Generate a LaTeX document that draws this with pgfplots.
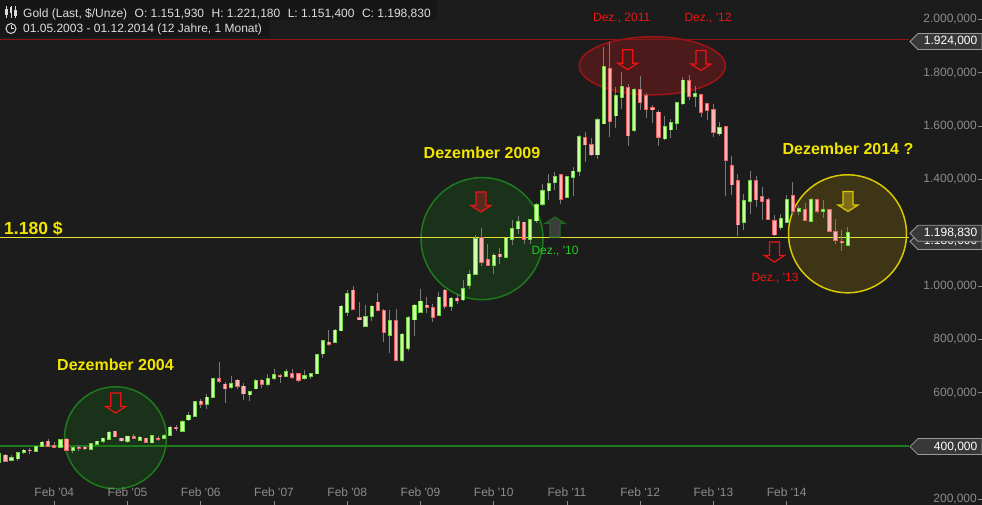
\documentclass[border=0pt]{standalone}
\usepackage{fontspec}
\setmainfont{Liberation Sans}
\usepackage{pgfplots}
\usepackage{pgfplotstable}
\pgfplotsset{compat=1.18}

\definecolor{bg}{HTML}{1C1C1C}
\definecolor{hdr}{HTML}{161616}
\definecolor{tickgray}{HTML}{8C8C8C}
\definecolor{wick}{HTML}{7A7A7A}
\definecolor{upedge}{HTML}{6FD93A}
\definecolor{upfill}{HTML}{CCFFA8}
\definecolor{dnedge}{HTML}{F06060}
\definecolor{dnfill}{HTML}{FFB4B4}
\definecolor{annoyellow}{HTML}{F2E600}
\definecolor{annored}{HTML}{EE1414}
\definecolor{annogreen}{HTML}{22CC22}
\definecolor{circgreen}{HTML}{1E7A1E}
\definecolor{circgreenfill}{HTML}{1A321A}
\definecolor{ellred}{HTML}{A01414}
\definecolor{ellredfill}{HTML}{4C1A1A}
\definecolor{linered}{HTML}{8E1515}
\definecolor{lineyellow}{HTML}{E6E036}
\definecolor{circyel}{HTML}{D8C800}
\definecolor{circyelfill}{HTML}{3D3516}
\definecolor{boxfill}{HTML}{383838}
\definecolor{boxedge}{HTML}{9A9A9A}

% monthly candles, m = months since Jan 2003
\pgfplotstableread{
m o h l c
4 340 378 336 372
6 347 366 342 355
7 352 378 344 375
8 376 390 370 384
10 381 399 378 396
11 400 417 398 414
14 395 427 393 424
16 384 397 375 394
19 388 410 386 408
20 408 420 404 417
21 417 431 412 428
22 425 455 424 451
25 417 438 412 436
27 422 437 420 432
29 412 442 410 437
31 430 443 427 437
32 441 474 438 470
34 455 496 454 491
35 499 528 492 515
36 512 570 510 566
38 557 593 540 582
39 583 656 580 652
42 620 664 612 633
45 592 604 567 602
46 615 650 612 645
48 632 668 626 652
49 654 687 647 667
51 663 690 660 678
54 654 683 649 664
55 663 675 652 671
56 671 745 669 742
57 746 797 731 795
59 789 839 786 833
60 832 927 830 923
61 901 986 886 971
64 849 930 845 885
65 887 927 868 923
68 815 908 747 870
70 722 825 714 818
71 766 889 755 881
72 874 934 812 927
73 901 990 898 942
76 890 979 886 957
78 924 957 907 953
80 949 1024 945 990
81 1003 1061 990 1043
82 1043 1192 1040 1176
85 1078 1124 1043 1115
87 1107 1180 1103 1178
88 1176 1249 1155 1215
89 1215 1264 1196 1240
91 1176 1252 1157 1249
92 1245 1311 1236 1305
93 1307 1383 1300 1357
94 1357 1421 1324 1383
95 1388 1428 1361 1409
97 1332 1412 1328 1409
98 1409 1446 1336 1430
99 1430 1567 1411 1558
102 1492 1630 1477 1623
103 1609 1897 1606 1822
105 1639 1746 1594 1713
106 1707 1801 1664 1746
108 1583 1743 1578 1736
113 1552 1638 1546 1596
114 1586 1626 1555 1611
115 1611 1689 1583 1686
116 1684 1785 1680 1771
118 1713 1751 1671 1721
122 1571 1616 1563 1592
126 1240 1346 1209 1320
127 1318 1430 1271 1395
132 1220 1271 1211 1252
133 1239 1342 1237 1324
135 1280 1301 1267 1290
137 1242 1330 1239 1324
139 1280 1321 1255 1286
143 1151.93 1221.18 1151.40 1198.83
}\upcandles

\pgfplotstableread{
m o h l c
5 365 368 341 344
9 384 392 370 383
12 417 426 397 399
13 400 415 392 396
15 425 428 382 384
17 395 402 380 393
18 395 400 386 390
23 455 457 432 435
24 428 430 414 420
26 433 446 425 428
28 428 430 414 415
30 429 438 418 426
33 469 478 456 466
37 567 575 542 556
40 652 713 636 643
41 631 640 560 615
43 646 652 612 624
44 623 637 574 596
47 646 652 617 632
50 664 668 637 661
52 671 687 652 657
53 671 673 640 648
58 788 833 776 782
62 983 1001 908 912
63 880 941 871 874
66 938 975 907 909
67 907 915 789 827
69 870 912 717 722
74 927 960 899 920
75 919 934 864 883
77 983 987 914 924
79 953 970 933 945
83 1180 1218 1074 1089
84 1099 1158 1074 1078
86 1118 1143 1084 1110
90 1239 1241 1156 1176
96 1417 1421 1309 1326
100 1555 1576 1463 1530
101 1530 1555 1488 1492
104 1814 1913 1557 1617
107 1742 1758 1523 1564
109 1736 1788 1660 1688
110 1713 1723 1630 1663
111 1667 1679 1611 1661
112 1651 1661 1526 1559
117 1768 1792 1696 1713
119 1717 1720 1635 1652
120 1683 1686 1623 1658
121 1661 1683 1557 1576
123 1596 1600 1336 1471
124 1451 1486 1342 1380
125 1395 1421 1186 1230
128 1395 1413 1296 1324
129 1334 1371 1249 1318
130 1324 1330 1246 1251
131 1245 1267 1186 1192
134 1339 1388 1271 1280
136 1286 1311 1242 1246
138 1324 1327 1275 1280
140 1286 1290 1204 1205
141 1203 1251 1159 1171
142 1166 1209 1130 1163
}\downcandles

% block arrows, centre (#2,#3) in picture pixels, y downwards
\newcommand{\downarr}[3]{%
  \path[#1] ({#2-5},{#3-10}) -- ({#2+5},{#3-10}) -- ({#2+5},{#3+3.5})
    -- ({#2+10},{#3+3.5}) -- (#2,{#3+10}) -- ({#2-10},{#3+3.5})
    -- ({#2-5},{#3+3.5}) -- cycle;}
\newcommand{\uparr}[3]{%
  \path[#1] ({#2-5},{#3+10}) -- ({#2+5},{#3+10}) -- ({#2+5},{#3-3.5})
    -- ({#2+10},{#3-3.5}) -- (#2,{#3-10}) -- ({#2-10},{#3-3.5})
    -- ({#2-5},{#3-3.5}) -- cycle;}
\newcommand{\pricebox}[2]{%
  \filldraw[fill=boxfill, draw=boxedge, line width=0.8pt]
    (910,#1) -- (918,{#1-8}) -- (982,{#1-8}) -- (982,{#1+8}) -- (918,{#1+8}) -- cycle;
  \node[anchor=east, inner sep=0pt, text=white, font=\fontsize{12}{14}\selectfont] at (977.5,#1) {#2};}

\pgfplotsset{
  candle/.style={only marks, mark size=0pt, mark options={draw=none, fill=none}, forget plot,
    error bars/.cd, y dir=plus, y explicit, error mark=none, error bar style={#1}},
}

\begin{document}
\begin{tikzpicture}
\fill[bg] (0,0) rectangle (982pt,505pt);

% highlight circles behind the candles
\begin{scope}[yshift=505pt, x=1pt, y=-1pt]
  \filldraw[fill=circgreenfill, draw=circgreen, line width=1.5pt] (115.5,437.8) circle[radius=51pt];
  \filldraw[fill=circgreenfill, draw=circgreen, line width=1.5pt] (482,238.6) circle[radius=61pt];
  \filldraw[fill=ellredfill, draw=ellred, line width=1.5pt] (652.3,65.8) ellipse[x radius=73pt, y radius=29pt];
  \filldraw[fill=circyelfill, draw=circyel, line width=1.5pt] (847.5,233.8) circle[radius=59pt];
\end{scope}

\begin{axis}[
  at={(0,0)}, anchor=south west,
  scale only axis, width=982pt, height=505pt,
  xmin=4.1, xmax=165, ymin=178.6, ymax=2072.4,
  axis x line*=bottom, axis y line*=right,
  axis line style={draw=none},
  tick align=inside, major tick length=4pt,
  tick style={tickgray, line width=0.6pt},
  xtick={13,25,...,133},
  xticklabels={Feb \textquotesingle04,Feb \textquotesingle05,Feb \textquotesingle06,Feb \textquotesingle07,Feb \textquotesingle08,Feb \textquotesingle09,Feb \textquotesingle10,Feb \textquotesingle11,Feb \textquotesingle12,Feb \textquotesingle13,Feb \textquotesingle14},
  xticklabel style={anchor=base, yshift=8pt, text=tickgray, font=\fontsize{12}{14}\selectfont},
  % the 1.200 label is hidden behind the price tags, so it is left out
  ytick={200,400,600,800,1000,1400,1600,1800,2000},
  scaled y ticks=false,
  yticklabel={\pgfmathprintnumber[fixed, fixed zerofill, precision=3, use comma, 1000 sep={.}, assume math mode=true]{\tick}},
  yticklabel style={anchor=east, xshift=-5pt, inner sep=0pt, text=tickgray, font=\fontsize{12}{14}\selectfont},
]
% price levels
\draw[linered, line width=1pt] (axis cs:4.1,1924) -- (axis cs:153.1,1924);
\draw[lineyellow, line width=1pt] (axis cs:4.1,1180) -- (axis cs:153.1,1180);
\draw[circgreen, line width=1.2pt] (axis cs:4.1,400) -- (axis cs:153.1,400);

% wicks
\addplot[candle={line width=1pt, draw=wick}]
  table[x=m, y=l, y error plus expr=\thisrow{h}-\thisrow{l}] {\upcandles};
\addplot[candle={line width=1pt, draw=wick}]
  table[x=m, y=l, y error plus expr=\thisrow{h}-\thisrow{l}] {\downcandles};

% rising bodies
\addplot[candle={line width=4.2pt, draw=upedge, shorten <=-0.7pt, shorten >=-0.7pt}]
  table[x=m, y=o, y error plus expr=\thisrow{c}-\thisrow{o}] {\upcandles};
\addplot[candle={line width=2.2pt, draw=upfill}]
  table[x=m, y=o, y error plus expr=\thisrow{c}-\thisrow{o}] {\upcandles};

% falling bodies
\addplot[candle={line width=4.2pt, draw=dnedge, shorten <=-0.7pt, shorten >=-0.7pt}]
  table[x=m, y=c, y error plus expr=\thisrow{o}-\thisrow{c}] {\downcandles};
\addplot[candle={line width=2.2pt, draw=dnfill}]
  table[x=m, y=c, y error plus expr=\thisrow{o}-\thisrow{c}] {\downcandles};
\end{axis}

% annotations, in picture pixels with y downwards
\begin{scope}[yshift=505pt, x=1pt, y=-1pt]
  % header
  \fill[hdr] (0,0) rectangle (437,20);
  \fill[hdr] (0,20) rectangle (270,37);
  \foreach \ix/\a/\b in {6.5/9/15,11/7/13,15.5/10/16}{
    \draw[white!85!black, line width=0.6pt] (\ix,6) -- (\ix,18);
    \fill[white!85!black] ({\ix-1.3},\a) rectangle ({\ix+1.3},\b);
  }
  \draw[white!85!black, line width=1pt] (11,28.5) circle[radius=5pt];
  \draw[white!85!black, line width=1pt] (11,25.5) -- (11,28.5) -- (13.5,28.5);
  \node[anchor=base west, inner sep=0pt, text=white!87!black, font=\fontsize{12}{14}\selectfont] at (23,17.5)
    {Gold (Last, \$/Unze)\hspace{7.5pt}O: 1.151,930\hspace{7.5pt}H: 1.221,180\hspace{7.5pt}L: 1.151,400\hspace{7.5pt}C: 1.198,830};
  \node[anchor=base west, inner sep=0pt, text=white!87!black, font=\fontsize{12}{14}\selectfont] at (23,33)
    {01.05.2003 - 01.12.2014 (12 Jahre, 1 Monat)};

  % arrows
  \downarr{draw=annored, line width=1.2pt}{115.7}{403}
  \downarr{fill={rgb,255:red,90;green,42;blue,28}, draw=annored, line width=1.2pt}{481}{202}
  \uparr{fill={rgb,255:red,60;green,60;blue,60}, draw={rgb,255:red,31;green,106;blue,31}, line width=1.2pt}{555}{227}
  \downarr{draw=annored, line width=1.2pt}{627.7}{59.7}
  \downarr{draw=annored, line width=1.2pt}{701}{60.5}
  \downarr{draw=annored, line width=1.2pt}{774.5}{252}
  \downarr{fill={rgb,255:red,125;green,109;blue,26}, draw=circyel, line width=1.2pt}{848}{201.5}

  % labels
  \node[text=annoyellow, font=\fontsize{16}{18}\bfseries] at (115.5,364.5) {Dezember 2004};
  \node[text=annoyellow, font=\fontsize{16}{18}\bfseries] at (482,152.5) {Dezember 2009};
  \node[text=annoyellow, font=\fontsize{16}{18}\bfseries] at (848,148.5) {Dezember 2014 ?};
  \node[anchor=west, inner sep=0pt, text=annoyellow, font=\fontsize{17.5}{19}\bfseries] at (4,229) {1.180 \$};
  \node[text=annored, font=\fontsize{12}{14}\selectfont] at (621.7,18.3) {Dez., 2011};
  \node[text=annored, font=\fontsize{12}{14}\selectfont] at (708,18.3) {Dez., \textquotesingle12};
  \node[text=annogreen, font=\fontsize{12}{14}\selectfont] at (555,251.3) {Dez., \textquotesingle10};
  \node[text=annored, font=\fontsize{12}{14}\selectfont] at (775,278.3) {Dez., \textquotesingle13};

  % price tags on the right; the 1.180 tag sits behind the current price
  \pricebox{241.5}{1.180,000}
  \pricebox{233.3}{1.198,830}
  \pricebox{41.5}{1.924,000}
  \pricebox{446.6}{400,000}
\end{scope}

\pgfresetboundingbox
\useasboundingbox (0,0) rectangle (982pt,505pt);
\end{tikzpicture}
\end{document}
